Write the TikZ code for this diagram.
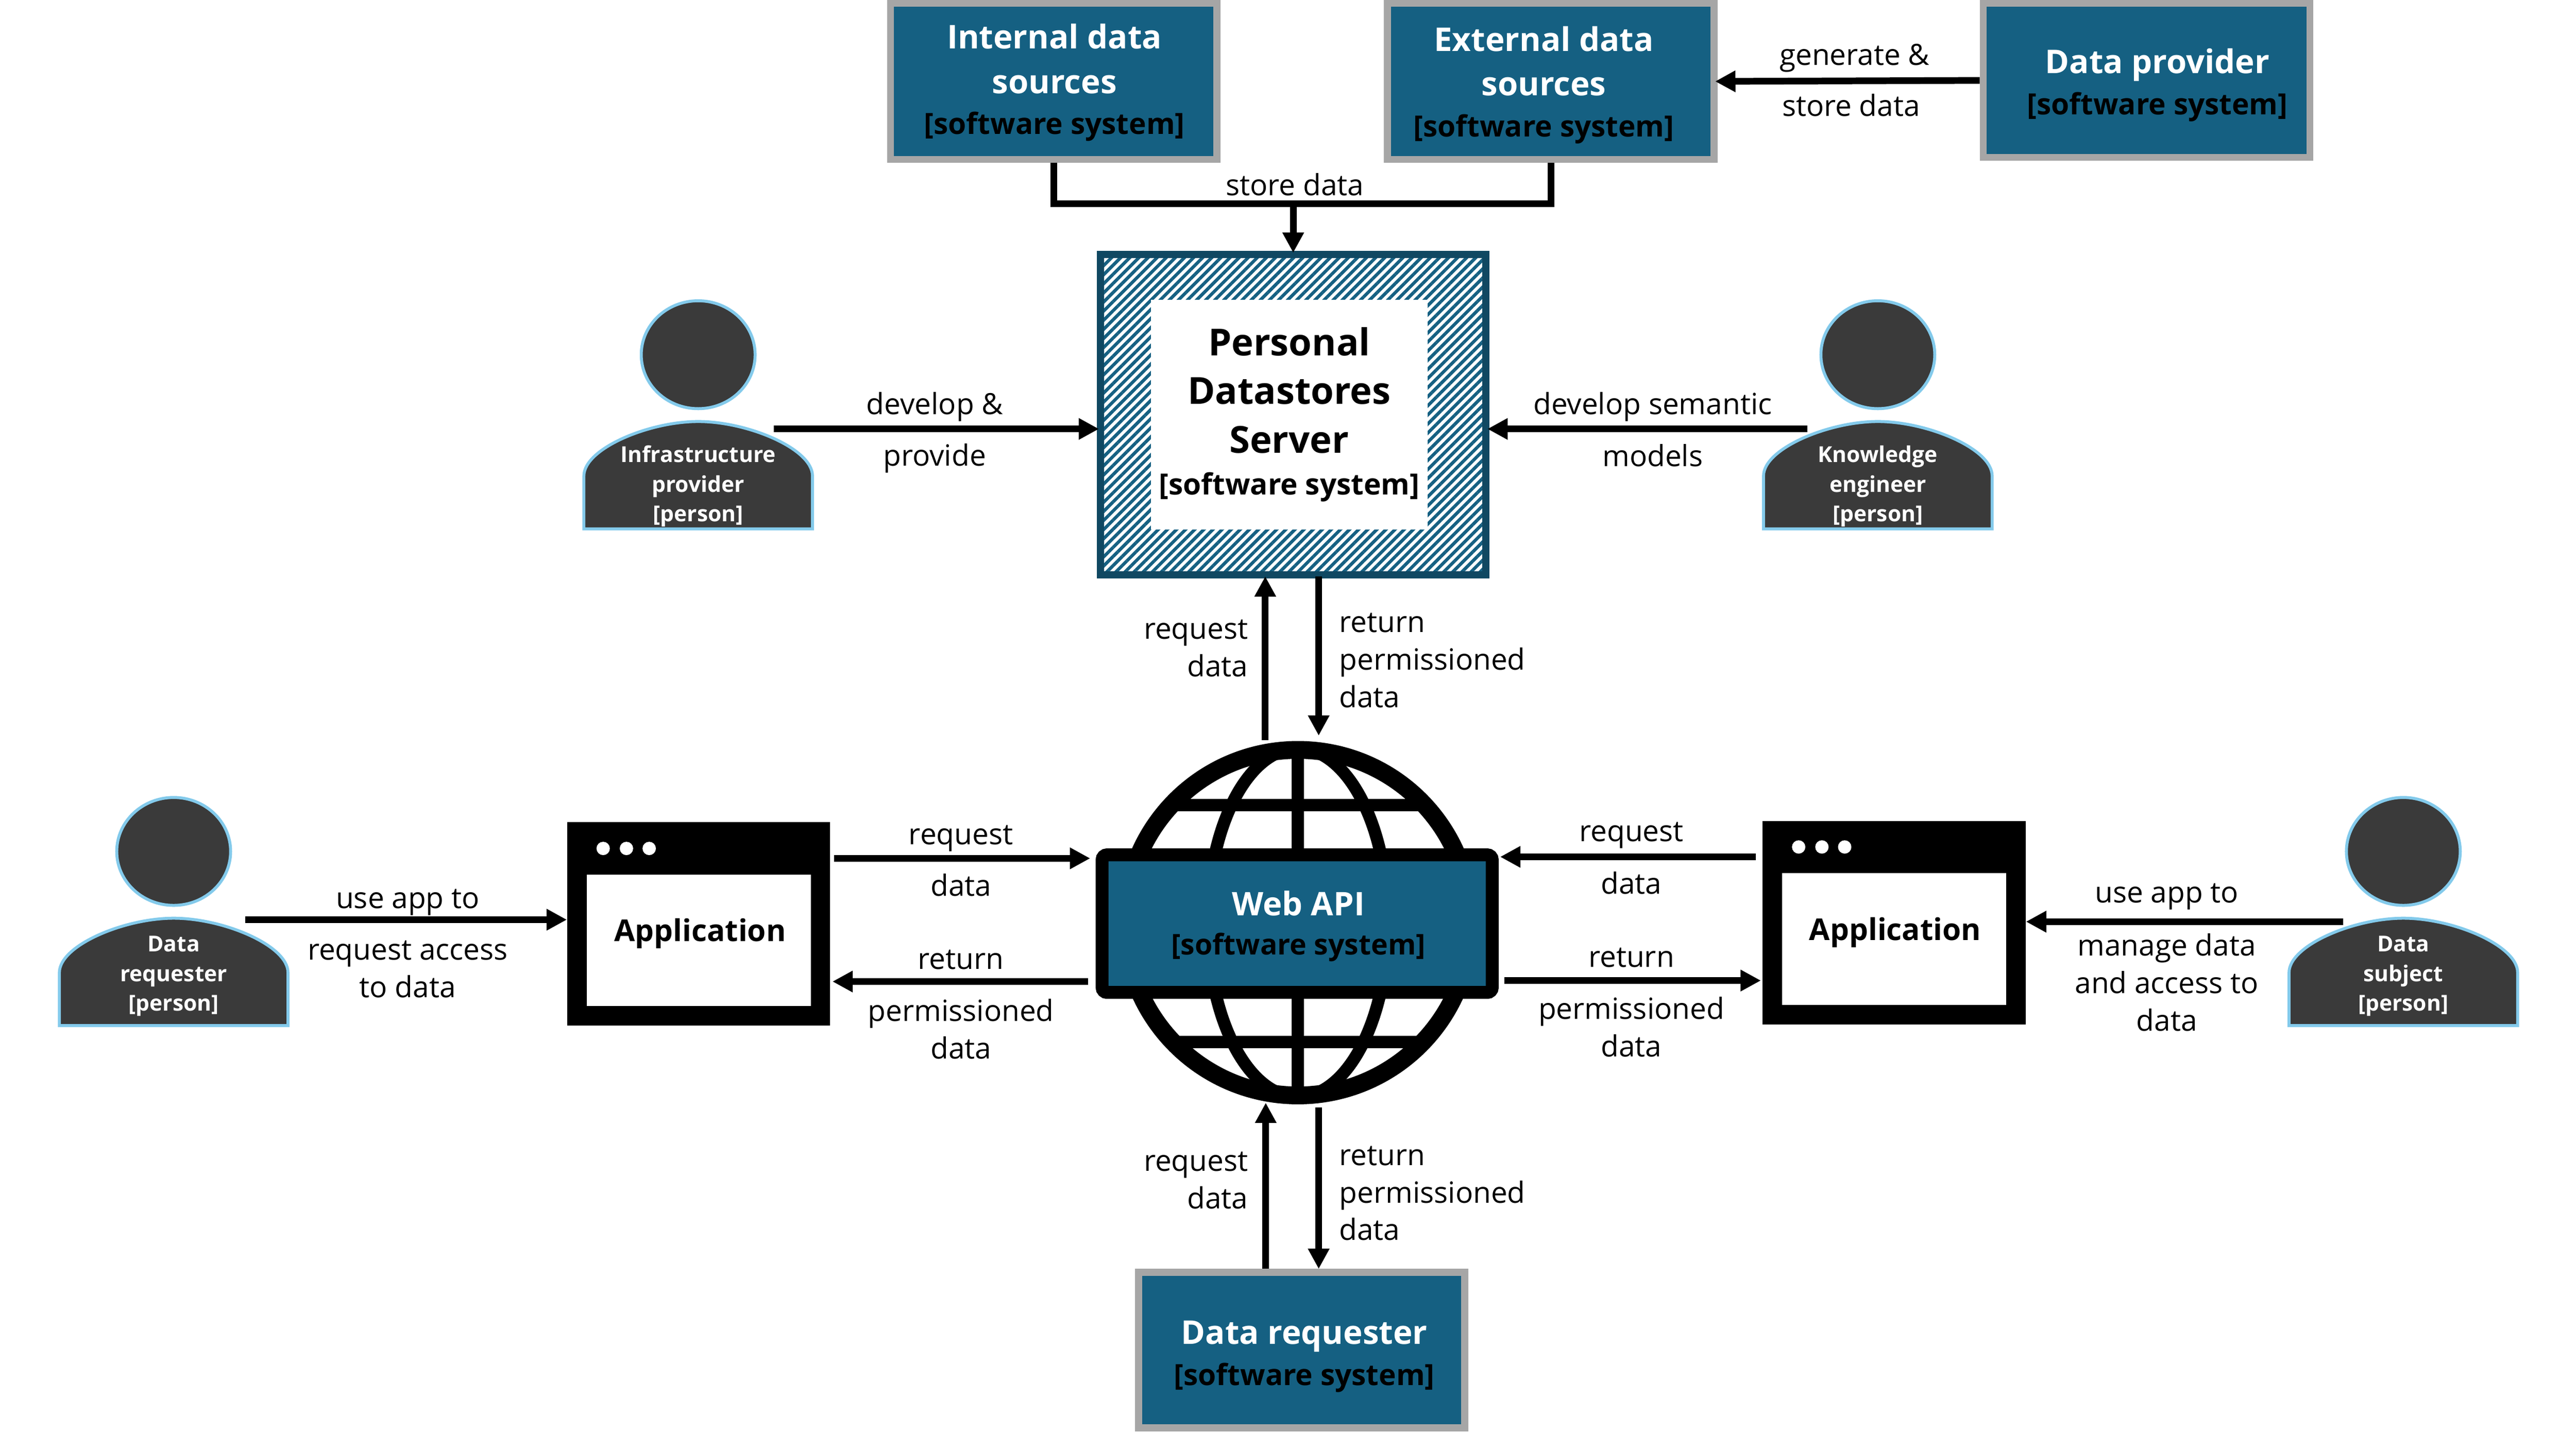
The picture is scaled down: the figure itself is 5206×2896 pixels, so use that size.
\documentclass[tikz,border=0pt]{standalone}
\usepackage{fontspec}
\setmainfont{Open Sans}
\usepackage{xcolor}
\usepackage{tikz}
\usetikzlibrary{patterns.meta}
\usetikzlibrary{shapes.geometric,arrows.meta,positioning}

\definecolor{sysblue}{HTML}{156082}
\definecolor{sysedge}{HTML}{A6A6A6}
\definecolor{serveredge}{HTML}{104862}
\definecolor{persongray}{HTML}{3A3A3A}
\definecolor{personedge}{HTML}{83CAEB}

\newcommand{\systag}{\fontsize{16.8}{25.5}\selectfont\color{black}[software system]}

\tikzset{
    sysbox/.style={
        draw=sysedge,
        line width=0.14cm,
        fill=sysblue,
        inner sep=0pt
    },
    systext/.style={
        inner sep=0pt,
        align=center,
        text=white,
        font=\fontsize{18.8}{25.5}\selectfont\bfseries
    },
    serverbox/.style={
        draw=serveredge,
        line width=0.15cm,
        inner sep=0pt,
        minimum width=7.78cm,
        minimum height=6.47cm,
        pattern={Lines[angle=45,distance=3.7pt,line width=1.85pt]},
        pattern color=sysblue
    },
    servercore/.style={
        fill=white,
        inner sep=0pt,
        minimum width=5.59cm,
        minimum height=4.64cm,
        align=center,
        font=\fontsize{21.4}{28}\selectfont\bfseries
    },
    appframe/.style={
        fill=black,
        inner sep=0pt,
        minimum width=5.31cm,
        minimum height=4.11cm
    },
    appscreen/.style={
        fill=white,
        inner sep=0pt,
        minimum width=4.52cm,
        minimum height=2.66cm
    },
    appdot/.style={
        circle,
        fill=white,
        inner sep=0pt,
        minimum size=0.27cm
    },
    apptext/.style={
        inner sep=0pt,
        font=\fontsize{17.3}{22}\selectfont\bfseries
    },
    flow/.style={
        -{Triangle[length=0.41cm,width=0.41cm]},
        line width=0.135cm
    },
    flowtext/.style={
        inner sep=0pt,
        align=center,
        font=\fontsize{16.8}{21.6}\selectfont
    },
    globering/.style={
        circle,
        draw=black,
        line width=0.36cm,
        fill=white,
        inner sep=0pt,
        minimum size=6.98cm
    },
    globeline/.style={
        draw=black,
        line width=0.25cm
    },
    apibox/.style={
        draw=black,
        line width=0.26cm,
        rounded corners=0.1cm,
        fill=sysblue,
        inner sep=0pt,
        minimum width=7.88cm,
        minimum height=2.78cm
    },
    apitext/.style={
        inner sep=0pt,
        align=center,
        text=white,
        font=\fontsize{18.7}{24}\selectfont\bfseries
    },
    personhead/.style={
        ellipse,
        draw=personedge,
        line width=0.06cm,
        fill=persongray,
        inner sep=0pt,
        minimum width=2.30cm,
        minimum height=2.18cm
    },
    personbody/.style={
        draw=personedge,
        line width=0.06cm,
        fill=persongray
    },
    persontext/.style={
        inner sep=0pt,
        align=center,
        text=white,
        font=\fontsize{12.6}{17}\selectfont\bfseries
    },
    lowertext/.style={
        persontext/.append style={yshift=-0.14cm}
    },
    person/.pic={
        \node[personhead] (head) at (0,0) {};
        \draw[personbody] (-231,352) -- (-231,245) .. controls (-231,190) and (-100,135) .. (0,135)
            .. controls (100,135) and (231,190) .. (231,245) -- (231,352) -- cycle;
        \node[persontext] (text) at (0,252) {#1};
    }
}

\begin{document}
\begin{tikzpicture}[x=0.01cm,y=-0.01cm]
    \useasboundingbox (0,0) rectangle (5206,2896);

    \node[sysbox,minimum width=6.59cm,minimum height=3.15cm] (internal) at (2129.5,164.5) {};
    \node[systext] (internaltext) at (2131,167) {Internal data\\sources\\[-2pt]{\systag}};
    \node[sysbox,minimum width=6.60cm,minimum height=3.15cm] (external) at (3134,164.5) {};
    \node[systext] (externaltext) at (3120,172) {External data\\sources\\[-2pt]{\systag}};
    \node[sysbox,minimum width=6.60cm,minimum height=3.11cm] (provider) at (4338,162.5) {};
    \node[systext] (providertext) at (4360,172) {Data provider\\[-2pt]{\systag}};
    \node[sysbox,minimum width=6.59cm,minimum height=3.14cm] (consumer) at (2630.5,2729) {};
    \node[systext] (consumertext) at (2636,2742) {Data requester\\[-2pt]{\systag}};

    \node[serverbox] (server) at (2613.5,838) {};
    \node[servercore] (servercore) at (2605.5,838)
        {Personal\\Datastores\\Server\\[-4pt]{\systag}};

    \node[globering] (globe) at (2623,1865) {};
    \draw[globeline] (globe.north) -- (globe.south);
    \draw[globeline] (globe.center) ellipse [x radius=1.82cm,y radius=3.52cm];
    \draw[globeline] (2364,1627) -- (2882,1627);
    \draw[globeline] (2364,2106) -- (2882,2106);
    \node[apibox] (webapi) at (2621.5,1867) {};
    \node[apitext] (webapitext) at (2624,1872)
        {Web API\\[-1.5pt]{\fontsize{16.4}{24}\selectfont\color{black}[software system]}};

    \node[appframe] (appleft) at (1412,1867.5) {};
    \node[appscreen] (appleftscreen) at (1412.5,1900.5) {};
    \node[apptext] (applefttext) at (1415,1887) {Application};
    \node[appframe] (appright) at (3828,1865) {};
    \node[appscreen] (apprightscreen) at (3828,1898) {};
    \node[apptext] (apprighttext) at (3830,1885) {Application};
    \foreach \dotx [count=\i] in {1219,1266,1312} {
        \node[appdot] (appleftdot\i) at (\dotx,1715) {};
    }
    \foreach \dotx [count=\i] in {3635,3682,3728} {
        \node[appdot] (apprightdot\i) at (\dotx,1712) {};
    }

    \pic[lowertext] (infra) at (1411,717) {person={Infrastructure\\provider\\{[person]}}};
    \pic[lowertext] (engineer) at (3795,717) {person={Knowledge\\engineer\\{[person]}}};
    \pic (requester) at (351,1721) {person={Data\\requester\\{[person]}}};
    \pic (subject) at (4857,1721) {person={Data\\subject\\{[person]}}};

    \coordinate (storejoin) at (2613.5,412);
    \draw[line width=0.135cm] (internal.south) |- (storejoin);
    \draw[line width=0.135cm] (external.south) |- (storejoin);
    \draw[flow] (storejoin) -- (server.north);
    \draw[flow,shorten >=-0.05cm] (provider.west) -- (external.east);

    \coordinate (infrastart) at (1564,867);
    \coordinate (engineerstart) at (3652,867);
    \draw[flow] (infrastart) -- (infrastart -| server.west);
    \draw[flow] (engineerstart) -- (engineerstart -| server.east);

    \coordinate (serverup) at (2557,1496);
    \coordinate (serverdown) at (2665,1487);
    \draw[flow] (serverup) -- (serverup |- server.south);
    \draw[flow] (serverdown |- server.south) -- (serverdown);

    \coordinate (consumerup) at (2558,2229);
    \coordinate (consumerdown) at (2665,2239);
    \draw[flow] (consumerup |- consumer.north) -- (consumerup);
    \draw[flow] (consumerdown) -- (consumerdown |- consumer.north);

    \coordinate (requesterstart) at (496,1859);
    \coordinate (subjectstart) at (4735,1863);
    \draw[flow] (requesterstart) -- (requesterstart -| appleft.west);
    \draw[flow] (subjectstart) -- (subjectstart -| appright.east);

    \coordinate (leftcall) at (0,1735);
    \coordinate (leftback) at (0,1984);
    \coordinate (rightcall) at (0,1732);
    \coordinate (rightback) at (0,1982);
    \draw[flow,shorten <=0.07cm,shorten >=0.11cm] (leftcall -| appleft.east) -- (leftcall -| webapi.west);
    \draw[flow,shorten <=0.15cm,shorten >=0.04cm] (leftback -| webapi.west) -- (leftback -| appleft.east);
    \draw[flow,shorten <=0.13cm,shorten >=0.03cm] (rightcall -| appright.west) -- (rightcall -| webapi.east);
    \draw[flow,shorten <=0.11cm,shorten >=0.03cm] (rightback -| webapi.east) -- (rightback -| appright.west);

    \node[flowtext] (storelabel) at (2617,373) {store data};
    \node[flowtext] (generatelabel) at (3748,117) {generate \&};
    \node[flowtext] (storedatalabel) at (3741,213) {store data};
    \node[flowtext] (developlabel) at (1889,822) {develop \&};
    \node[flowtext] (providelabel) at (1889,926) {provide};
    \node[flowtext] (semanticlabel) at (3340,822) {develop semantic};
    \node[flowtext] (modelslabel) at (3340,921) {models};

    \node[flowtext,align=right,anchor=east] (toprequest) at (2523,1310) {request\\data};
    \node[flowtext,align=left,anchor=west] (topreturn) at (2706,1335) {return\\permissioned\\data};
    \node[flowtext,align=right,anchor=east] (bottomrequest) at (2523,2386) {request\\data};
    \node[flowtext,align=left,anchor=west] (bottomreturn) at (2706,2412) {return\\permissioned\\data};

    \node[flowtext] (leftrequest) at (1942,1695) {request};
    \node[flowtext] (leftdata) at (1942,1789) {data};
    \node[flowtext] (leftreturn) at (1942,1940) {return};
    \node[flowtext] (leftpermitted) at (1942,2080) {permissioned\\data};
    \node[flowtext] (rightrequest) at (3297,1688) {request};
    \node[flowtext] (rightdata) at (3297,1785) {data};
    \node[flowtext] (rightreturn) at (3297,1936) {return};
    \node[flowtext] (rightpermitted) at (3297,2076) {permissioned\\data};

    \node[flowtext] (requesteruse) at (824,1824) {use app to};
    \node[flowtext] (requesteraccess) at (824,1959) {request access\\to data};
    \node[flowtext] (subjectuse) at (4379,1812) {use app to};
    \node[flowtext] (subjectmanage) at (4379,1986) {manage data\\and access to\\data};
\end{tikzpicture}
\end{document}
